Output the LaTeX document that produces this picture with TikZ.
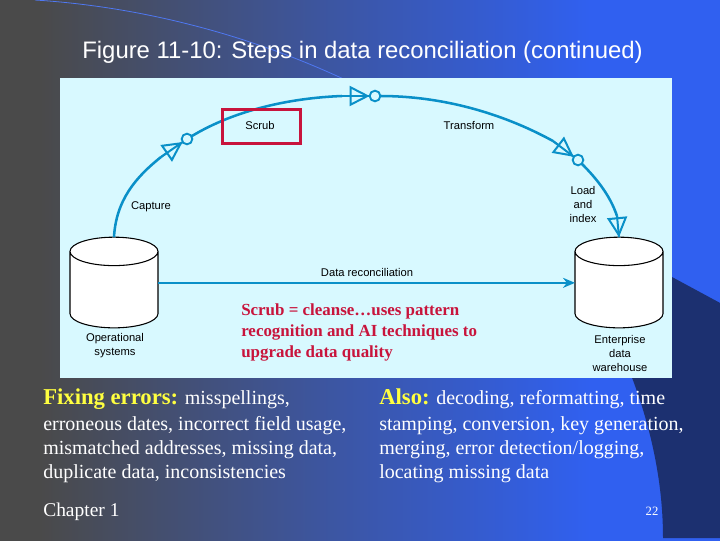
\documentclass[tikz,border=0pt]{standalone}
\usepackage{fontspec}
\setmainfont{Liberation Serif}
\newfontfamily\labelfont{Liberation Sans}
\usetikzlibrary{arrows.meta,shapes.geometric}
\definecolor{slidegrey}{HTML}{4A4A4A}
\definecolor{slideblue}{HTML}{3060F0}
\definecolor{slidenavy}{HTML}{1C3070}
\definecolor{panelcyan}{HTML}{D8F9FF}
\definecolor{flowblue}{HTML}{0A90C8}
\definecolor{scrubred}{HTML}{C8143C}
\definecolor{headyellow}{HTML}{FFFF40}
\tikzset{
	flowmark/.style={circle, draw=flowblue, line width=1.4pt, minimum size=8pt, inner sep=0pt, outer sep=0pt},
	flowarc/.style={draw=flowblue, line width=1.9pt},
	flowtip/.style={draw=flowblue, line width=1.5pt, postaction={draw, -{Triangle[open, length=15pt, width=15pt]}}},
	store/.style={cylinder, shape border rotate=90, shape aspect=3.2, draw=black, line width=0.8pt, fill=white, minimum width=66pt, minimum height=68pt, outer sep=0pt},
	figlabel/.style={font=\labelfont\fontsize{8.4}{10.5}\selectfont, align=center, text=black, inner sep=0pt},
	redtext/.style={font=\fontsize{12.7}{15.75}\selectfont\bfseries, align=left, text=scrubred, anchor=north west, inner sep=0pt},
	bodytext/.style={font=\fontsize{15}{18}\selectfont, align=left, text=white, anchor=north west, inner sep=0pt}
}
\begin{document}
\begin{tikzpicture}[x=0.75pt, y=-0.75pt]
	\useasboundingbox (0,0) rectangle (720,540);
	\fill[slidegrey] (-2,-2) rectangle (40,542);
	\fill[left color=slidegrey, right color=slideblue] (40,-2) rectangle (590,542);
	\fill[slideblue] (590,-2) rectangle (722,542);
	\draw[slideblue!85!white, line width=0.6pt] (35,0) .. controls (130,6) and (240,30) .. (350,82);
	\fill[slidenavy] (672,277) -- (722,304) -- (722,538) -- (663,538) .. controls (663,480) and (650,420) .. (625,360) -- (625,277) -- cycle;
	
	\node[text=white, font=\labelfont\fontsize{17.9}{20}\selectfont, inner sep=0pt] (title) at (362.5,52.5) {Figure 11-10: Steps in data reconciliation (continued)};
	\fill[panelcyan] (60,78) rectangle (672,378);
	
	\node[store] (opsys) at (114,293) {};
	\node[store] (dwh) at (619,293) {};
	\node[flowmark] (mark1) at (187,139) {};
	\node[flowmark] (mark2) at (375,96) {};
	\node[flowmark] (mark3) at (578,160) {};
	\coordinate (tail1) at (161,157);
	\coordinate (tail2) at (342,96);
	\coordinate (tail3) at (553,141);
	\coordinate (tail4) at (617,216);
	
	\draw[flowarc] (opsys.north) .. controls (116,200) and (136,177) .. (tail1);
	\draw[flowarc] (mark1) .. controls (235,110) and (290,98) .. (tail2);
	\draw[flowarc] (mark2) .. controls (440,96) and (500,112) .. (tail3);
	\draw[flowarc] (mark3) .. controls (596,178) and (610,195) .. (tail4);
	\draw[flowtip] (tail1) -- (mark1);
	\draw[flowtip] (tail2) -- (mark2);
	\draw[flowtip] (tail3) -- (mark3);
	\draw[flowtip] (tail4) -- (dwh.north);
	\draw[draw=flowblue, line width=1.7pt, -{Stealth[length=9pt, width=7.5pt]}] (opsys.13) -- (dwh.167);
	
	\node[draw=scrubred, line width=2.2pt, minimum width=58pt, minimum height=26pt, inner sep=0pt] (scrubbox) at (261.5,126.5) {};
	\node[figlabel] (scrub) at (260,125) {Scrub};
	\node[figlabel] (capture) at (151,206.5) {Capture};
	\node[figlabel] (transform) at (469,125) {Transform};
	\node[figlabel] (load) at (583,204.5) {Load\\and\\index};
	\node[figlabel] (recon) at (367,272) {Data reconciliation};
	\node[figlabel] (opname) at (115,346) {Operational\\systems};
	\node[figlabel] (dwhname) at (620,353) {Enterprise\\data\\warehouse};
	
	\node[redtext] (note) at (241,303) {Scrub = cleanse…uses pattern\\recognition and AI techniques to\\upgrade data quality};
	
	\node[bodytext] (fixing) at (43,388) {\textcolor{headyellow}{\fontsize{17}{18}\selectfont\bfseries Fixing errors:} misspellings,\\[1.5pt]erroneous dates, incorrect field usage,\\mismatched addresses, missing data,\\duplicate data, inconsistencies};
	\node[bodytext] (also) at (379,388) {\textcolor{headyellow}{\fontsize{17}{18}\selectfont\bfseries Also:} decoding, reformatting, time\\[1.5pt]stamping, conversion, key generation,\\merging, error detection/logging,\\locating missing data};
	\node[bodytext, font=\fontsize{14.6}{18}\selectfont, anchor=base west] (chapter) at (43,516) {Chapter 1};
	\node[bodytext, font=\fontsize{9.5}{12}\selectfont, anchor=base] (pageno) at (652,515) {22};
\end{tikzpicture}
\end{document}
